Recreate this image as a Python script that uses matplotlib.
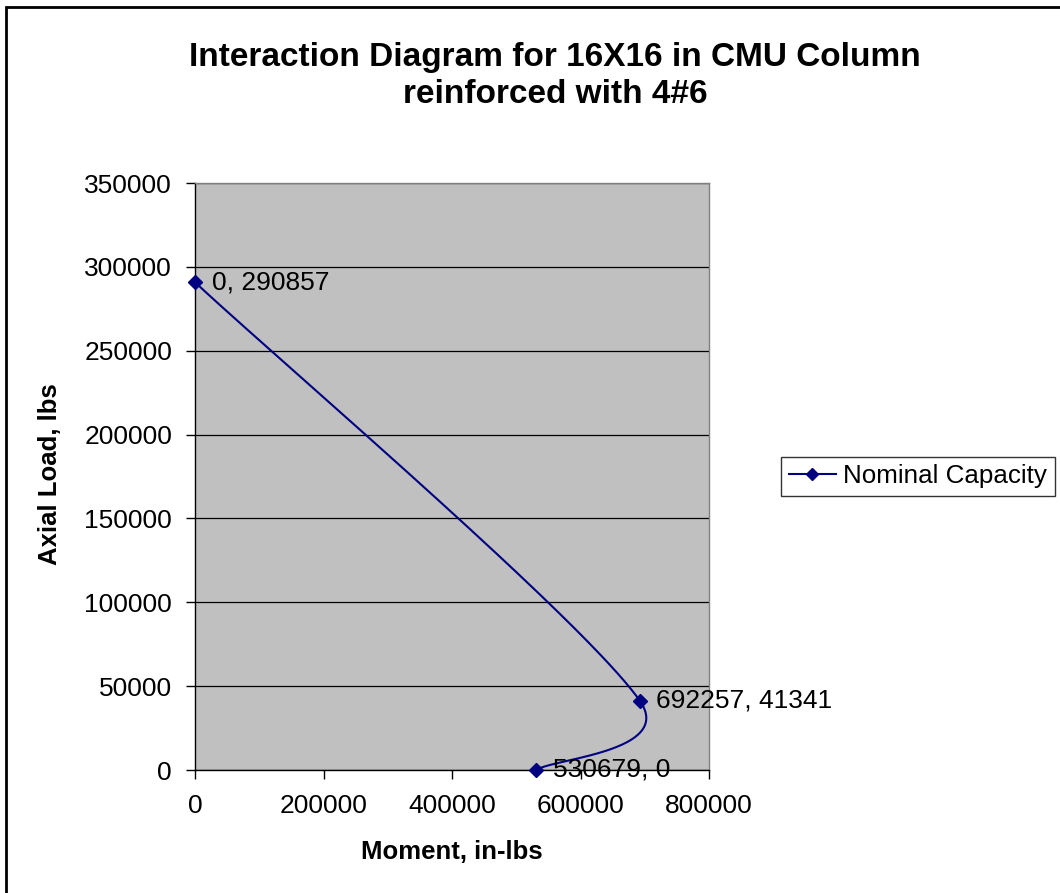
import numpy as np
import matplotlib
matplotlib.use("Agg")
import matplotlib.pyplot as plt
from matplotlib.patches import Rectangle

plt.rcParams['font.family'] = ['Liberation Sans', 'DejaVu Sans']

series_name = "Nominal Capacity"
moment = [0, 692257, 530679]
axial = [290857, 41341, 0]
point_labels = ["0, 290857", "692257, 41341", "530679, 0"]
x_ticks = [0, 200000, 400000, 600000, 800000]
y_ticks = [0, 50000, 100000, 150000, 200000, 250000, 300000, 350000]
title_lines = ["Interaction Diagram for 16X16 in CMU Column", "reinforced with 4#6"]

W, H = 1060, 893
fig = plt.figure(figsize=(W / 100, H / 100), dpi=100)
ax = fig.add_axes([195 / W, 1 - 770 / H, (709 - 195) / W, (770 - 183) / H])
ax.set_facecolor('#C0C0C0')
ax.set_xlim(0, 800000)
ax.set_ylim(0, 350000)

# Excel-like smoothing, computed in pixel-ish space
aw, ah = 709 - 195, 770 - 183
P = np.column_stack([np.array(moment) / 800000 * aw, np.array(axial) / 350000 * ah])
n = len(P)
tang = []
for i in range(n):
    a = P[max(i - 1, 0)]
    b = P[min(i + 1, n - 1)]
    tang.append((b - a) / 6.0)
curve = []
for i in range(n - 1):
    p0, p1 = P[i], P[i + 1]
    L = np.linalg.norm(p1 - p0)
    t0, t1 = tang[i].copy(), tang[i + 1].copy()
    for t in (t0, t1):
        m = np.linalg.norm(t)
        if m > 0.5 * L:
            t *= 0.5 * L / m
    c1 = p0 + t0
    c2 = p1 - t1
    s = np.linspace(0, 1, 120)[:, None]
    B = (1 - s) ** 3 * p0 + 3 * (1 - s) ** 2 * s * c1 + 3 * (1 - s) * s ** 2 * c2 + s ** 3 * p1
    curve.append(B)
curve = np.vstack(curve)
cx = curve[:, 0] / aw * 800000
cy = curve[:, 1] / ah * 350000

ax.plot(cx, cy, color='#000080', lw=1.5, zorder=3, clip_on=False)
ax.plot(moment, axial, linestyle='none', marker='D', ms=7.5, color='#000080', zorder=4, clip_on=False)
# legend proxy
ax.plot([], [], color='#000080', lw=1.5, marker='D', ms=6, label=series_name)

for x, y, lab in zip(moment, axial, point_labels):
    ax.annotate(lab, (x, y), xytext=(12, 0), textcoords='offset points', ha='left', va='center',
                fontsize=19, color='black', zorder=5, annotation_clip=False)

ax.set_xticks(x_ticks)
ax.set_yticks(y_ticks)
ax.set_xticklabels([str(v) for v in x_ticks])
ax.set_yticklabels([str(v) for v in y_ticks])
ax.tick_params(axis='both', direction='out', length=6.5, width=1, labelsize=19, color='black')
ax.tick_params(axis='y', pad=10)
ax.tick_params(axis='x', pad=11)
ax.yaxis.grid(True, color='black', lw=0.9)
ax.set_axisbelow(True)
for side in ['top', 'right']:
    ax.spines[side].set_color('#808080')
    ax.spines[side].set_linewidth(1)
for side in ['left', 'bottom']:
    ax.spines[side].set_color('black')
    ax.spines[side].set_linewidth(1)

xl = ax.set_xlabel('Moment, in-lbs', fontsize=18.5, fontweight='bold', va='center')
ax.xaxis.set_label_coords(0.5, (770 - 852) / 587)
yl = ax.set_ylabel('Axial Load, lbs', fontsize=18.5, fontweight='bold', va='center')
ax.yaxis.set_label_coords((50 - 195) / 514, 0.504)

fig.text(555 / W, 1 - 66 / H, title_lines[0], ha='center', va='baseline', fontsize=24, fontweight='bold')
fig.text(555 / W, 1 - 103 / H, title_lines[1], ha='center', va='baseline', fontsize=24, fontweight='bold')

leg = fig.legend(loc='center left', bbox_to_anchor=(781 / W, 1 - 476.5 / H), frameon=True,
                 fontsize=18.7, fancybox=False, edgecolor='black', handlelength=1.8,
                 borderpad=0.3, handletextpad=0.3, borderaxespad=0)
leg.get_frame().set_linewidth(1)

fig.patches.append(Rectangle((6 / W, -0.1), 1.2, (1 - 7 / H) + 0.1, transform=fig.transFigure,
                             fill=False, edgecolor='black', lw=2, clip_on=False))

fig.savefig('out.png', dpi=100)
